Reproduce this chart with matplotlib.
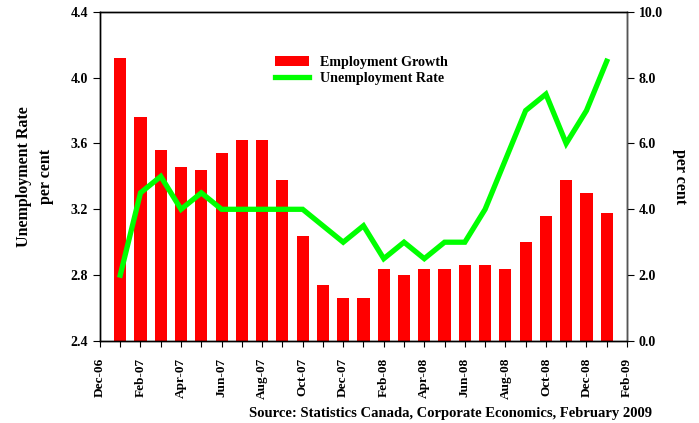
import matplotlib
matplotlib.use("Agg")
import matplotlib.pyplot as plt
from matplotlib.ticker import FormatStrFormatter, MultipleLocator

plt.rcParams['font.family'] = ['Liberation Serif', 'DejaVu Serif']
plt.rcParams['font.weight'] = 'bold'

months = ["Dec-06", "Jan-07", "Feb-07", "Mar-07", "Apr-07", "May-07", "Jun-07", "Jul-07",
          "Aug-07", "Sep-07", "Oct-07", "Nov-07", "Dec-07", "Jan-08", "Feb-08", "Mar-08",
          "Apr-08", "May-08", "Jun-08", "Jul-08", "Aug-08", "Sep-08", "Oct-08", "Nov-08",
          "Dec-08", "Jan-09", "Feb-09"]
data_months = months[1:26]
employment_growth = [4.12, 3.76, 3.56, 3.46, 3.44, 3.54, 3.62, 3.62, 3.38, 3.04, 2.74, 2.66,
                     2.66, 2.84, 2.80, 2.84, 2.84, 2.86, 2.86, 2.84, 3.00, 3.16, 3.38, 3.30, 3.18]
unemployment_rate = [2.0, 4.5, 5.0, 4.0, 4.5, 4.0, 4.0, 4.0, 4.0, 4.0, 3.5, 3.0,
                     3.5, 2.5, 3.0, 2.5, 3.0, 3.0, 4.0, 5.5, 7.0, 7.5, 6.0, 7.0, 8.5]

fig = plt.figure(figsize=(6.99, 4.23), dpi=100)
ax = fig.add_axes([0.143, 0.194, 0.754, 0.778])
ax2 = ax.twinx()

xpos = [months.index(m) for m in data_months]
base = 2.4
ax.bar(xpos, [v - base for v in employment_growth], bottom=base, width=0.6,
       color='#FF0000', label='Employment Growth', zorder=2)
ln, = ax2.plot(xpos, unemployment_rate, color='#00FF00', linewidth=3.8,
               label='Unemployment Rate', solid_joinstyle='miter', zorder=3)

ax.set_xlim(0, len(months) - 1)
ax.set_ylim(2.4, 4.4)
ax2.set_ylim(0, 10)
ax.yaxis.set_major_locator(MultipleLocator(0.4))
ax.yaxis.set_major_formatter(FormatStrFormatter('%.1f'))
ax2.yaxis.set_major_locator(MultipleLocator(2))
ax2.yaxis.set_major_formatter(FormatStrFormatter('%.1f'))

ax.set_xticks(range(len(months)))
ax.set_xticklabels([m if i % 2 == 0 else '' for i, m in enumerate(months)],
                   rotation=90, fontsize=9.5, fontweight='bold')
ax.tick_params(axis='x', direction='out', length=4, pad=8)
ax.tick_params(axis='y', direction='out', length=5, labelsize=10)
ax2.tick_params(axis='y', direction='out', length=5, labelsize=10)

for a in (ax, ax2):
    for s in a.spines.values():
        s.set_linewidth(1.0)
ax2.spines['right'].set_color('#555555')

ax.set_ylabel('Unemployment Rate\nper cent', fontsize=11.5, fontweight='bold',
              labelpad=12, linespacing=1.5)
ax2.set_ylabel('per cent', fontsize=11.5, fontweight='bold', rotation=270, labelpad=18)

ax.set_zorder(ax2.get_zorder() - 1)
ax.patch.set_visible(True)
ax2.patch.set_visible(False)

h1, l1 = ax.get_legend_handles_labels()
leg = ax2.legend(h1 + [ln], l1 + ['Unemployment Rate'], loc='upper left',
                 bbox_to_anchor=(0.308, 0.905), frameon=False,
                 handlelength=2.4, handleheight=0.7, labelspacing=0.25,
                 prop={'weight': 'bold', 'size': 10.2})

fig.text(0.933, 0.008, 'Source: Statistics Canada, Corporate Economics, February 2009',
         ha='right', va='bottom', fontsize=10.5, fontweight='bold')

fig.savefig('out.png', dpi=100)
